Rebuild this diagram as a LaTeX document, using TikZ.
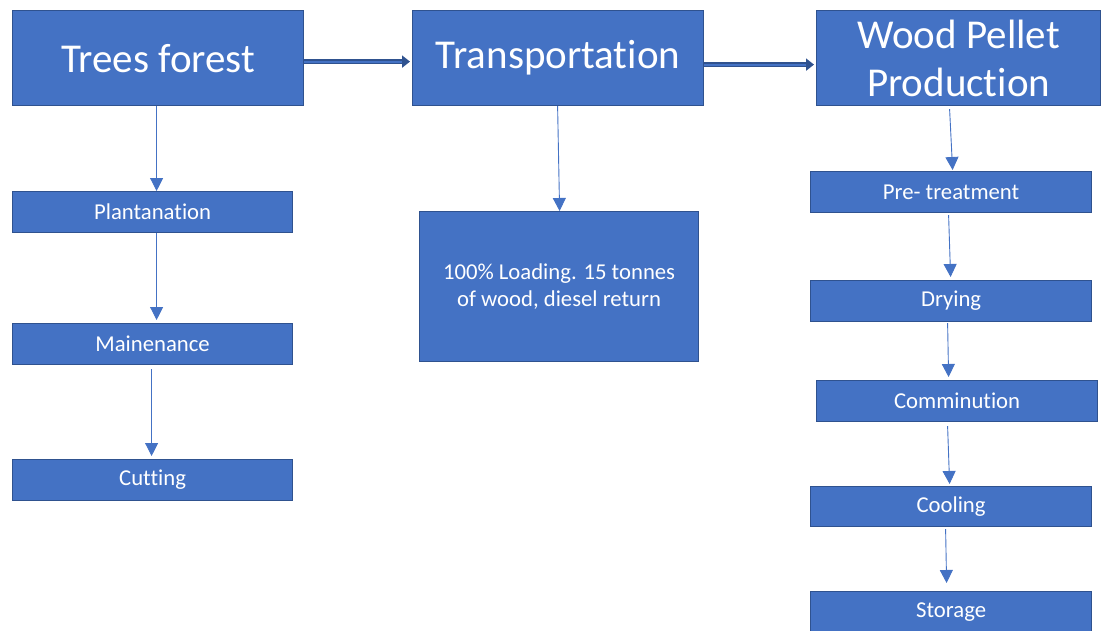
\documentclass[tikz,border=0pt]{standalone}
\usepackage{fontspec}
\setmainfont[Ligatures=NoCommon]{Carlito}
\usetikzlibrary{arrows.meta,positioning,calc}
\definecolor{boxfill}{HTML}{4472C4}
\definecolor{boxline}{HTML}{2F528F}
\tikzset{
  box/.style={draw=boxline, fill=boxfill, line width=1.2pt, text=white, anchor=north west, inner sep=0pt, align=center},
  bigbox/.style={box, font=\fontsize{41}{48}\selectfont},
  smallbox/.style={box, font=\fontsize{22.7}{27}\selectfont},
  varrow/.style={draw=boxfill, line width=0.9pt, -{Triangle[width=13pt,length=13pt]}},
  harrowout/.style={draw=boxline, line width=4.6pt, -{Triangle[width=12pt,length=8pt]}},
  harrowin/.style={draw=boxfill, line width=2pt}
}
\begin{document}
\begin{tikzpicture}[x=1pt,y=1pt]
\useasboundingbox (0,0) rectangle (1106,-630);
% top row
\node[bigbox, minimum width=291pt, minimum height=95pt] (tf) at (12,-10) {Trees forest};
\node[bigbox, minimum width=291pt, minimum height=95pt] (tr) at (412,-10) {Transportation};
\node[bigbox, minimum width=284pt, minimum height=95pt] (wp) at (816,-10) {Wood Pellet\\Production};
% left column
\node[smallbox, minimum width=280pt, minimum height=41pt] (pl) at (12,-191) {Plantanation};
\node[smallbox, minimum width=280pt, minimum height=41pt] (mn) at (12,-323) {Mainenance};
\node[smallbox, minimum width=280pt, minimum height=41pt] (ct) at (12,-459) {Cutting};
% middle
\node[smallbox, minimum width=279pt, minimum height=150pt] (ld) at (419,-211) {100\% Loading. 15 tonnes\\of wood, diesel return};
% right column
\node[smallbox, minimum width=281pt, minimum height=41pt] (pt) at (810,-171) {Pre- treatment};
\node[smallbox, minimum width=281pt, minimum height=41pt] (dr) at (810,-280) {Drying};
\node[smallbox, minimum width=281pt, minimum height=41pt] (cm) at (816,-380) {Comminution};
\node[smallbox, minimum width=281pt, minimum height=40pt] (co) at (810,-486) {Cooling};
\node[smallbox, minimum width=281pt, minimum height=41pt] (st) at (810,-591) {Storage};
% horizontal arrows
\coordinate (h1s) at ($(tf.east)+(0,-3.5)$);
\coordinate (h1e) at ($(tr.west)+(-2,-3.5)$);
\draw[harrowout] (h1s) -- (h1e);
\draw[harrowin] (h1s) -- ($(h1e)+(-8,0)$);
\coordinate (h2s) at ($(tr.east)+(0,-6.5)$);
\coordinate (h2e) at ($(wp.west)+(-2,-6.5)$);
\draw[harrowout] (h2s) -- (h2e);
\draw[harrowin] (h2s) -- ($(h2e)+(-8,0)$);
% vertical arrows
\draw[varrow] ($(tf.south)+(-1.5,0)$) -- ($(pl.north)+(4,0)$);
\draw[varrow] ($(pl.south)+(4,0)$) -- ($(mn.north)+(4,3)$);
\draw[varrow] ($(mn.south)+(-1,-4)$) -- ($(ct.north)+(-1,3)$);
\draw[varrow] ($(tr.south)+(-0.5,0)$) -- ($(ld.north)+(0.5,0)$);
\draw[varrow] ($(wp.south)+(-9,-3)$) -- ($(pt.north)+(1.5,1)$);
\draw[varrow] ($(pt.south)+(-2.5,-2)$) -- ($(dr.north)+(-0.5,3)$);
\draw[varrow] ($(dr.south)+(-3.5,-1)$) -- ($(cm.north)+(-8.5,3)$);
\draw[varrow] ($(cm.south)+(-9.5,-4)$) -- ($(co.north)+(-1.5,2)$);
\draw[varrow] ($(co.south)+(-5.5,-2)$) -- ($(st.north)+(-4.5,8)$);
\end{tikzpicture}
\end{document}
